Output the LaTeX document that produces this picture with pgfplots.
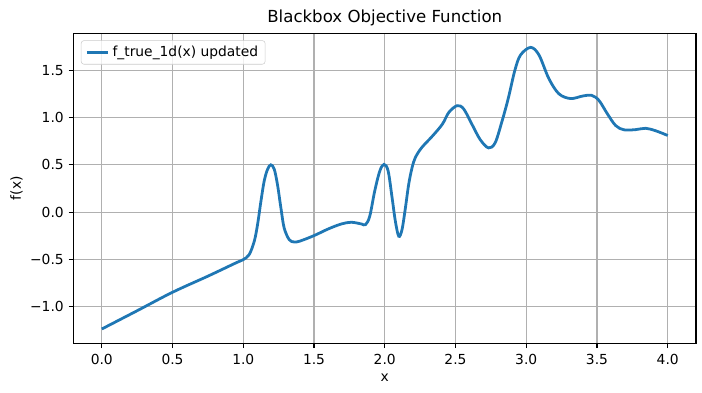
\documentclass[border=0pt]{standalone}
\usepackage{fontspec}
\setmainfont{DejaVu Sans}
\usepackage{pgfplots}
\pgfplotsset{compat=1.18}
\definecolor{mplblue}{HTML}{1F77B4}
\definecolor{gridgray}{HTML}{B0B0B0}
\begin{document}
\begin{tikzpicture}
\useasboundingbox (-52.9bp,-35.8bp) rectangle (452.5bp,247.1bp);
\begin{axis}[
  scale only axis,
  width=448.2bp, height=223.2bp,
  xmin=-0.2, xmax=4.2,
  ymin=-1.383, ymax=1.89,
  xtick={0,0.5,1,1.5,2,2.5,3,3.5,4},
  xticklabels={0.0,0.5,1.0,1.5,2.0,2.5,3.0,3.5,4.0},
  ytick={-1,-0.5,0,0.5,1,1.5},
  yticklabels={−1.0,−0.5,0.0,0.5,1.0,1.5},
  tick align=outside,
  tick pos=left,
  major tick length=3.5pt,
  every tick/.style={black, line width=0.8pt},
  axis line style={line width=0.8pt},
  grid=major,
  major grid style={gridgray, line width=0.8pt},
  tick label style={font=\fontsize{10}{12}\selectfont},
  xticklabel style={yshift=-1pt},
  title={Blackbox Objective Function},
  title style={font=\fontsize{12}{14}\selectfont, yshift=-4.5pt},
  xlabel={x},
  ylabel={f(x)},
  label style={font=\fontsize{10}{12}\selectfont},
  ylabel style={yshift=-1.5pt},
  legend cell align=left,
  legend style={font=\fontsize{10}{12}\selectfont, draw=black!20, rounded corners=2pt, fill=white, fill opacity=0.8, text opacity=1, at={(0.012,0.977)}, anchor=north west, inner xsep=3pt, inner ysep=2pt},
  legend image code/.code={\draw[#1, line width=2bp] (0cm,0cm) -- (0.55cm,0cm);},
]
\addplot[mplblue, line width=2bp, smooth, tension=0.55] coordinates {
(0.0,-1.233) (0.25,-1.04) (0.5,-0.845) (0.75,-0.675) (0.948,-0.535) (1.0,-0.5)
(1.042,-0.447) (1.078,-0.305) (1.101,-0.13) (1.125,0.117) (1.148,0.33)
(1.172,0.454) (1.195,0.5) (1.219,0.454) (1.242,0.29) (1.266,0.046)
(1.289,-0.166) (1.325,-0.29) (1.36,-0.314) (1.40,-0.305)
(1.5,-0.247) (1.6,-0.177) (1.693,-0.124) (1.764,-0.106)
(1.835,-0.124) (1.864,-0.131) (1.894,-0.042) (1.929,0.223) (1.965,0.435)
(1.995,0.505) (2.024,0.435) (2.052,0.152) (2.075,-0.095) (2.099,-0.254)
(2.122,-0.184) (2.146,0.046) (2.169,0.293) (2.193,0.47) (2.216,0.576)
(2.26,0.68) (2.337,0.804) (2.407,0.929) (2.453,1.054) (2.512,1.125)
(2.558,1.09) (2.616,0.929) (2.674,0.768) (2.733,0.679) (2.78,0.732)
(2.826,0.946) (2.872,1.196) (2.92,1.50) (2.96,1.66) (3.031,1.74) (3.09,1.66)
(3.16,1.41) (3.231,1.25) (3.314,1.2) (3.40,1.227) (3.462,1.234)
(3.514,1.18) (3.573,1.04) (3.632,0.915) (3.691,0.87) (3.774,0.872)
(3.844,0.886) (3.915,0.86) (4.0,0.81)
};
\addlegendentry{f\_true\_1d(x) updated}
\end{axis}
\end{tikzpicture}
\end{document}
